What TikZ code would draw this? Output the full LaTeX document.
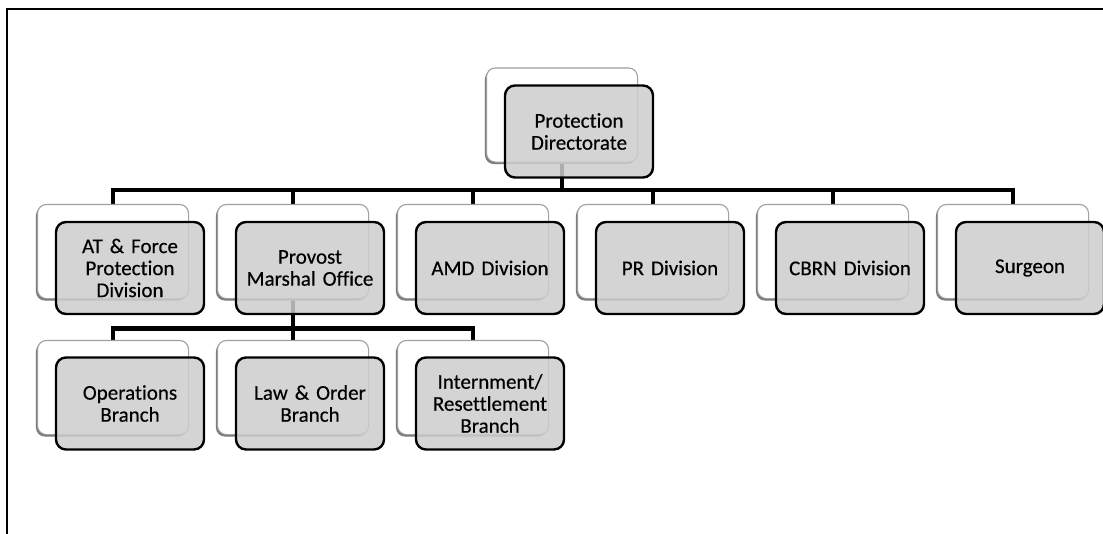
\documentclass[tikz,border=0pt]{standalone}
\usepackage{fontspec}
\setmainfont[Ligatures=NoCommon,FakeBold=0.4]{Carlito}
\definecolor{boxgray}{RGB}{205,205,205}
\definecolor{backline}{RGB}{160,160,160}
\definecolor{backshadow}{RGB}{120,120,120}
\begin{document}
\begin{tikzpicture}[x=1pt,y=-1pt,
  backbox/.style={draw=backline, line width=1.1pt, fill=white, rounded corners=9pt,
    minimum width=150pt, minimum height=93pt, inner sep=0pt},
  frontbox/.style={draw=black, line width=2.4pt, fill=boxgray, fill opacity=0.85,
    text opacity=1, rounded corners=10pt, minimum width=148pt, minimum height=92pt,
    inner sep=0pt, align=center, text width=144pt, text=black,
    font=\fontsize{21pt}{22pt}\selectfont},
  conn/.style={draw=black, line width=4.5pt},
  frame/.style={draw=black, line width=2.4pt}]
\useasboundingbox (0,0) rectangle (1103,533);

% outer frame (top and left edges)
\draw[frame] (1104,9) -- (7,9) -- (7,534);

% back (outline) boxes, placed first so connectors can be drawn between them
\path
  (562,115)   node[backbox] (pdB) {}
  (113,251.5) node[backbox] (atB) {}
  (293,251.5) node[backbox] (pmB) {}
  (473,251.5) node[backbox] (amB) {}
  (653,251.5) node[backbox] (prB) {}
  (833,251.5) node[backbox] (cbB) {}
  (1013,251.5) node[backbox] (sgB) {}
  (113,387.5) node[backbox] (opB) {}
  (293,387.5) node[backbox] (loB) {}
  (473,387.5) node[backbox] (inB) {};

% connectors
\foreach \c in {atB,pmB,amB,prB,cbB,sgB}
  \draw[conn] (pdB.south) -- ++(0,28) -| (\c.north);
\foreach \c in {opB,loB,inB}
  \draw[conn] (pmB.south) -- ++(0,30) -| (\c.north);

% back boxes with their small shadow, drawn over the connector ends
\foreach \c in {pdB,atB,pmB,amB,prB,cbB,sgB,opB,loB,inB} {
  \fill[backshadow, rounded corners=9pt]
    ([xshift=-1.5pt,yshift=-2pt]\c.south west) rectangle ([xshift=-1.5pt,yshift=-2pt]\c.north east);
  \draw[backline, line width=1.1pt, fill=white, rounded corners=9pt]
    (\c.south west) rectangle (\c.north east);
}

% front (filled) boxes with the labels
\node[frontbox] (pd) at (579,131.5) {Protection\\Directorate};
\node[frontbox] (at) at (130,268) {AT \& Force\\Protection\\Division};
\node[frontbox] (pm) at (310,268) {Provost\\Marshal Office};
\node[frontbox] (am) at (490,268) {AMD Division};
\node[frontbox] (pr) at (670,268) {PR Division};
\node[frontbox] (cb) at (850,268) {CBRN Division};
\node[frontbox] (sg) at (1030,268) {Surgeon};
\node[frontbox] (op) at (130,403.5) {Operations\\Branch};
\node[frontbox] (lo) at (310,403.5) {Law \& Order\\Branch};
\node[frontbox] (in) at (490,403.5) {Internment/\\Resettlement\\Branch};
\end{tikzpicture}
\end{document}
